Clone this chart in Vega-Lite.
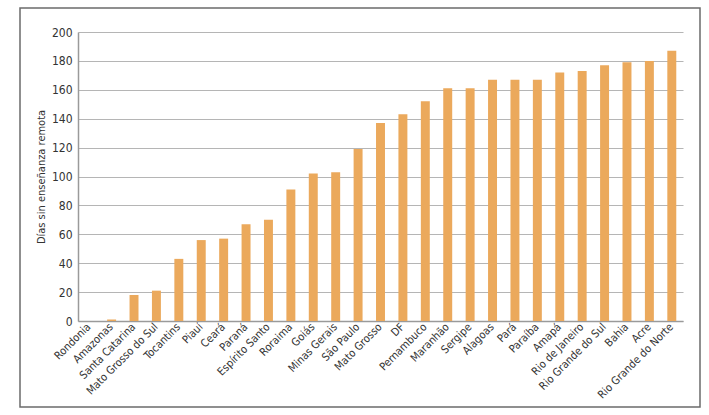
{
  "$schema": "https://vega.github.io/schema/vega-lite/v6.json",
  "autosize": {"type": "none"},
  "width": 680,
  "height": 399,
  "padding": {"left": 20, "top": 8, "right": 9, "bottom": 8},
  "background": "white",
  "config": {
    "view": {"stroke": "#6b6b6b", "strokeWidth": 1.5},
    "font": "'DejaVu Sans Condensed', 'Roboto Condensed', Roboto, sans-serif"
  },
  "data": {
    "values": [
      {"estado": "Rondonia", "dias": 0},
      {"estado": "Amazonas", "dias": 1},
      {"estado": "Santa Catarina", "dias": 18},
      {"estado": "Mato Grosso do Sul", "dias": 21},
      {"estado": "Tocantins", "dias": 43},
      {"estado": "Piauí", "dias": 56},
      {"estado": "Ceará", "dias": 57},
      {"estado": "Paraná", "dias": 67},
      {"estado": "Espírito Santo", "dias": 70},
      {"estado": "Roraima", "dias": 91},
      {"estado": "Goiás", "dias": 102},
      {"estado": "Minas Gerais", "dias": 103},
      {"estado": "São Paulo", "dias": 119},
      {"estado": "Mato Grosso", "dias": 137},
      {"estado": "DF", "dias": 143},
      {"estado": "Pernambuco", "dias": 152},
      {"estado": "Maranhão", "dias": 161},
      {"estado": "Sergipe", "dias": 161},
      {"estado": "Alagoas", "dias": 167},
      {"estado": "Pará", "dias": 167},
      {"estado": "Paraíba", "dias": 167},
      {"estado": "Amapá", "dias": 172},
      {"estado": "Rio de Janeiro", "dias": 173},
      {"estado": "Rio Grande do Sul", "dias": 177},
      {"estado": "Bahia", "dias": 179},
      {"estado": "Acre", "dias": 180},
      {"estado": "Rio Grande do Norte", "dias": 187}
    ]
  },
  "mark": {"type": "bar", "color": "#EBA95C"},
  "encoding": {
    "x": {
      "field": "estado",
      "type": "nominal",
      "sort": null,
      "scale": {"range": [58, 663], "paddingInner": 0.6, "paddingOuter": 0.3},
      "axis": {
        "title": null,
        "offset": -86,
        "labelAngle": -45,
        "labelAlign": "right",
        "labelBaseline": "middle",
        "labelFontSize": 11,
        "labelColor": "#333333",
        "labelPadding": 4,
        "ticks": false,
        "domainColor": "#9a9a9a",
        "domainWidth": 1.5,
        "grid": false
      }
    },
    "y": {
      "field": "dias",
      "type": "quantitative",
      "scale": {"domain": [0, 200], "range": [313, 24], "nice": false, "zero": true},
      "axis": {
        "title": "Días sin enseñanza remota",
        "titleFontSize": 11,
        "titleFontWeight": "normal",
        "titleColor": "#333333",
        "titlePadding": 5,
        "offset": -58,
        "values": [0, 20, 40, 60, 80, 100, 120, 140, 160, 180, 200],
        "labelFontSize": 12,
        "labelColor": "#333333",
        "labelPadding": 6,
        "ticks": false,
        "domainColor": "#9a9a9a",
        "domainWidth": 1.5,
        "grid": true,
        "gridColor": "#b5b5b5",
        "gridWidth": 1.2
      }
    }
  }
}
